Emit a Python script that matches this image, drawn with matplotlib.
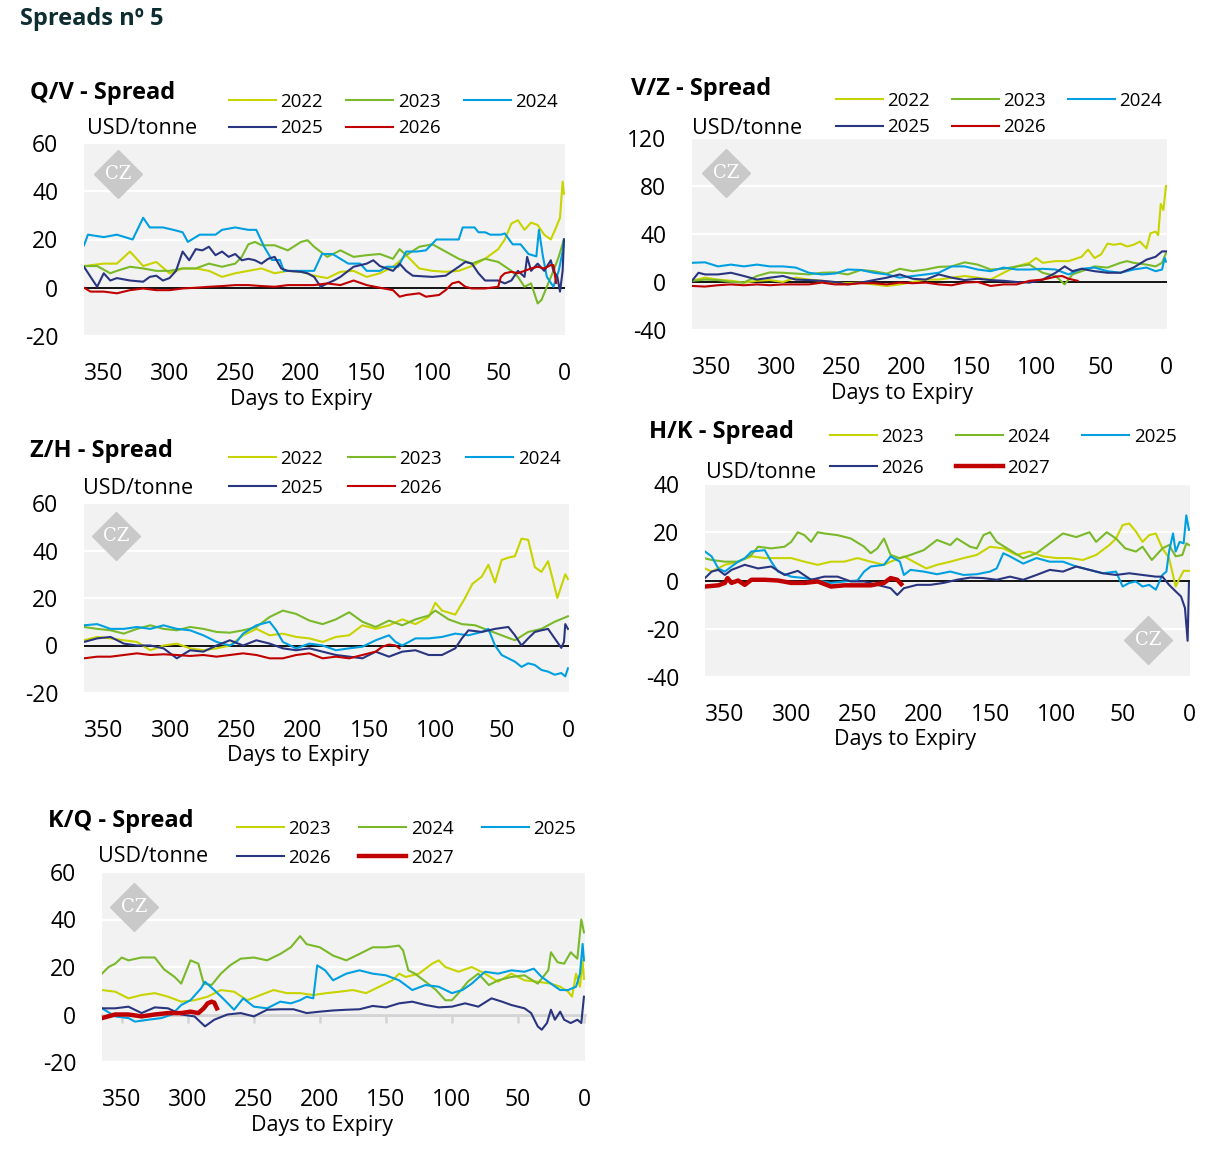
import matplotlib.pyplot as plt

W, H = 1213, 1149
plt.rcParams['font.family'] = ['Open Sans', 'DejaVu Sans']
plt.rcParams['axes.unicode_minus'] = False

x_ticks = [350, 300, 250, 200, 150, 100, 50, 0]

YELLOW = '#c8d400'
GREEN = '#7ab929'
BLUE = '#00a0e0'
NAVY = '#2a3580'
RED = '#c00000'

# ---------------- Q/V spread ----------------
qv_labels = ['2022', '2023', '2024', '2025', '2026']
qv_d_2022 = [365, 350, 340, 330, 320, 310, 300, 290, 280, 270, 260, 250, 240, 230, 220, 210, 200, 190, 180, 170,
             160, 150, 140, 130, 120, 110, 100, 90, 80, 70, 60, 50, 45, 40, 35, 30, 25, 20, 15, 10, 6, 3, 1, 0]
qv_2022 = [9, 10, 10, 15, 9, 10.7, 6, 8, 8, 7, 4.5, 6, 7, 8, 6, 7, 6.6, 5, 4, 6.6,
           7, 4.5, 6, 8.7, 13.5, 8, 7, 6.6, 7, 9, 12, 16, 20, 26.6, 28, 24, 27, 26, 22, 20, 25, 29, 44, 39]
qv_d_2023 = [365, 355, 345, 340, 330, 320, 310, 300, 290, 280, 270, 260, 250, 245, 240, 235, 230, 220, 210, 200,
             195, 190, 180, 170, 160, 150, 140, 130, 125, 120, 110, 100, 90, 80, 70, 60, 50, 40, 35, 30, 25, 20,
             17, 12, 8, 4, 0]
qv_2023 = [9, 9, 6, 7, 8.7, 8, 7, 7, 8, 8, 10, 8.7, 10, 12.8, 18, 19, 17.6, 17.6, 15.5, 19,
           19.7, 17, 12.8, 15.5, 12.8, 13.5, 14, 12, 16, 13.5, 17, 18, 15, 12, 10, 12, 10.7, 7, 4.5, 0.4, 1.8, -6.5,
           -5, 1.8, 7, 12.8, 20]
qv_d_2024 = [365, 362, 350, 340, 328, 320, 315, 305, 297, 290, 286, 277, 265, 260, 250, 240, 234, 228, 222, 216,
             213, 205, 198, 190, 184, 176, 170, 164, 155, 150, 140, 135, 126, 120, 112, 105, 97, 88, 80, 77, 68,
             65, 60, 56, 48, 45, 39, 33, 27, 21, 19, 16, 13, 8, 4, 1, 0]
qv_2024 = [17.6, 22, 21, 22, 20, 29, 25, 25, 24, 23, 19, 22, 22, 24, 25, 24, 24, 17, 11.5, 11.5,
           7, 7, 7, 7, 14, 14, 12, 10, 10, 7, 7, 8.7, 8.7, 15, 15, 15.5, 20, 20, 20, 25, 25,
           23, 23, 22, 22, 22.5, 18, 18, 14, 13, 24, 13, 4.5, 0.4, 7, 15, 20]
qv_d_2025 = [365, 360, 355, 350, 345, 340, 330, 320, 315, 310, 305, 300, 295, 290, 285, 280, 275, 270, 265, 260,
             255, 250, 245, 240, 235, 230, 225, 220, 215, 210, 200, 195, 190, 185, 180, 175, 170, 160, 150, 145,
             140, 130, 125, 120, 115, 100, 90, 80, 75, 70, 65, 60, 50, 45, 40, 35, 30, 28, 25, 20, 15, 10, 8, 5,
             3, 1, 0]
qv_2025 = [8.7, 4.5, 0.4, 6, 3, 4, 3, 2.5, 4.5, 5, 3, 4, 7, 15, 11.4, 16, 15.5, 17, 13.5, 15,
           12.8, 14, 11.4, 12, 11.4, 10, 12, 12.8, 8, 7, 6.6, 6, 4.5, 0.4, 1.8, 3, 4.5, 8.7, 10, 11.4,
           9, 7, 10, 7, 5, 4.5, 5, 8.7, 10.7, 10, 6, 3, 3, 1.8, 3, 7, 4.5, 12.8, 7, 10, 7, 11.4, 7, 4.5,
           -1.6, 7, 20]
qv_d_2026 = [365, 360, 350, 340, 330, 320, 310, 300, 290, 280, 270, 260, 250, 240, 230, 220, 210, 200, 190, 180,
             170, 160, 150, 140, 130, 125, 120, 110, 105, 95, 90, 85, 80, 75, 70, 60, 50, 48, 45, 40, 35, 30,
             25, 20, 15, 10, 8, 6]
qv_2026 = [0, -1.6, -1.6, -2.3, -1, -0.3, -1, -1, -0.3, 0, 0.4, 0.7, 1.1, 1.1, 0.7, 0.4, 1.1, 1.1, 1.1, 1.8,
           1.1, 3, 1.1, 0, -1, -3.7, -3, -2.3, -3.7, -3, -1, 1.8, 2.5, 0.4, -0.3, -0.3, 0.4, 4.5, 6, 6.6, 6, 7,
           8, 8.7, 8, 9.4, 9.4, 2]

# ---------------- V/Z spread ----------------
vz_labels = ['2022', '2023', '2024', '2025', '2026']
vz_d_2022 = [365, 355, 345, 335, 325, 315, 305, 295, 285, 275, 265, 255, 245, 235, 225, 215, 205, 195, 185, 175,
             165, 155, 145, 135, 125, 115, 105, 100, 95, 85, 75, 65, 60, 55, 50, 45, 40, 35, 30, 25, 20, 15, 12,
             8, 6, 4, 2, 0]
vz_2022 = [1, 3.6, 2, 1, -0.5, 1, 1.6, 0, 3.6, 2, 1, -0.5, -1, -0.5, -2, -3.3, -2, 0, 2, 2,
           3.6, 5, 3.6, 2, 7.7, 13, 16, 20, 16, 17.4, 17.4, 21, 27, 20, 23, 32, 31, 32, 29.6, 31, 33.7, 28, 40.5,
           42, 39, 65, 60, 80]
vz_d_2023 = [365, 355, 345, 335, 325, 315, 305, 295, 285, 275, 265, 255, 245, 235, 225, 215, 205, 195, 185, 175,
             165, 155, 145, 135, 125, 115, 105, 95, 85, 78, 72, 65, 55, 45, 35, 30, 25, 15, 8, 3, 0]
vz_2023 = [1, 2, 1.6, 0, -0.5, 5, 8, 7.7, 7, 6.3, 7.7, 8, 6.3, 10, 9, 7, 11, 9, 10.4, 12.6,
           13, 16.4, 14.5, 10.4, 11, 13, 14.5, 7.7, 5, -2, 6.3, 9, 13, 12, 16, 17.4, 16, 14.5, 13, 16, 24]
vz_d_2024 = [365, 355, 345, 335, 325, 315, 305, 295, 285, 275, 265, 255, 245, 235, 225, 215, 205, 195, 185, 175,
             165, 155, 145, 135, 125, 115, 105, 95, 85, 75, 65, 55, 45, 35, 25, 15, 8, 3, 1, 0]
vz_2024 = [16, 16.4, 13, 14.5, 13, 14.5, 13, 13, 12, 7.7, 6.3, 7, 10.4, 10, 7.7, 6.3, 3.6, 5, 6.3, 7.7,
           13, 13, 10.4, 9, 12, 10.4, 10.4, 11, 10.4, 6.3, 11, 12, 9, 7.7, 10.4, 12, 9, 10.4, 20, 17]
vz_d_2025 = [365, 360, 355, 345, 335, 325, 315, 305, 295, 285, 275, 265, 255, 245, 235, 225, 215, 205, 195, 185,
             175, 165, 155, 145, 135, 125, 115, 105, 95, 85, 78, 72, 65, 55, 45, 35, 25, 15, 8, 3, 0]
vz_2025 = [1, 7.7, 6.3, 6.3, 7.7, 5, 2, 3.6, 5, 2, 1.6, 1, 0, -2, -0.5, 1.6, 3.6, 6.3, 2.7, 2,
           6.3, 3.6, 1.6, 2.7, 1.6, 1, 0, -0.5, 2, 7.7, 13, 9, 11, 9, 7.7, 7.7, 12, 18.6, 21, 25.5, 25.5]
vz_d_2026 = [365, 355, 345, 335, 325, 315, 305, 295, 285, 275, 265, 255, 245, 235, 225, 215, 205, 195, 185, 175,
             165, 155, 145, 135, 125, 115, 105, 95, 85, 80, 75, 68]
vz_2026 = [-3.3, -3.8, -2.7, -2, -2.7, -2, -2.7, -2, -2, -2, -0.5, -2, -2, -1, -1, -2, -0.5, -1, -0.5, -2,
           -2.7, -0.5, 0, -3.3, -2, -2, 1, 2, 4.4, 5, 2.7, 1]

# ---------------- Z/H spread ----------------
zh_labels = ['2022', '2023', '2024', '2025', '2026']
zh_d_2022 = [365, 355, 345, 335, 325, 315, 305, 295, 285, 275, 265, 255, 245, 235, 225, 215, 205, 195, 185, 175,
             165, 155, 145, 135, 125, 115, 105, 100, 95, 85, 78, 72, 65, 60, 55, 50, 45, 40, 35, 30, 25, 20, 15,
             12, 8, 5, 2, 0]
zh_2022 = [2.2, 3.6, 3, 2.2, 1.5, -2, 0, 0.8, -1.2, -2, -1.2, 0, 4.3, 7, 4.3, 5, 3.6, 3, 1.5, 3.6,
           4.3, 8.5, 7, 8.5, 11, 9, 12, 18, 14.7, 13, 19.6, 26, 29, 34, 26.5, 36, 37, 37.6, 45, 44.5, 33, 31, 35.5,
           29, 20, 25, 30, 28]
zh_d_2023 = [365, 355, 345, 335, 325, 315, 305, 295, 285, 275, 265, 255, 245, 235, 225, 215, 205, 195, 185, 175,
             165, 155, 145, 135, 125, 115, 105, 100, 90, 80, 70, 60, 50, 40, 30, 20, 10, 0]
zh_2023 = [7.8, 7, 6.4, 5, 7, 8.5, 7, 6.4, 7.8, 7, 5.7, 5.4, 6.4, 7.8, 12, 14.7, 13.3, 10.5, 9, 11,
           14, 10, 7.8, 10.5, 8.5, 11, 12.6, 14.7, 11, 9, 8.5, 6.4, 4.3, 2.2, 5.7, 7, 10, 12.3]
zh_d_2024 = [365, 355, 345, 335, 325, 315, 305, 295, 285, 275, 265, 255, 250, 245, 235, 225, 220, 215, 205, 195,
             185, 175, 165, 155, 145, 135, 130, 125, 115, 105, 95, 85, 75, 65, 60, 55, 50, 45, 40, 35, 30, 25,
             20, 15, 10, 5, 2, 0]
zh_2024 = [8.5, 9, 7, 7, 7.8, 7, 8.5, 7, 6.4, 4.3, 1.5, 0, 1.5, 5, 8.5, 10, 6.4, 1.5, -1.2, 0.8,
           0, -2, -1.2, -0.5, 2.2, 4.3, 1.5, 0, 3, 3, 3.6, 5, 4.3, 5.7, 7, 0, -4, -5.4, -6.8, -9, -7.5, -8.2,
           -10.3, -11, -12.3, -11.6, -13, -9.6]
zh_d_2025 = [365, 355, 345, 335, 325, 315, 305, 295, 285, 275, 265, 255, 245, 235, 225, 215, 205, 195, 185, 175,
             165, 155, 145, 135, 125, 115, 105, 95, 85, 80, 75, 65, 55, 45, 40, 35, 30, 25, 20, 15, 10, 5, 3, 2, 0]
zh_2025 = [1.5, 3, 3.6, 0.8, 0, 0, -1.2, -5.4, -2, -2.6, 0, 2.2, 0, 2.2, 0.8, -1.2, -2, -1.2, -2.6, -4,
           -4.7, -5.4, -2.6, -4.7, -2.6, -2, -4, -4, -1.2, 3, 6.4, 5.7, 7, 7.8, 4.3, 0, 3, 5.7, 6.4, 7, 3, -1,
           1.5, 9, 7]
zh_d_2026 = [365, 355, 345, 335, 325, 315, 305, 295, 285, 275, 265, 255, 245, 235, 225, 215, 205, 195, 185, 175,
             165, 155, 145, 140, 135, 130, 127]
zh_2026 = [-5.4, -4.7, -4.7, -4, -3.3, -4, -3.7, -4, -4.4, -4, -4.7, -4, -3.3, -4, -5.4, -5.4, -4, -3.3, -5.4,
           -4.7, -5.4, -4, -2.6, -0.5, 0.4, 0, -1.2]

# ---------------- H/K spread ----------------
hk_labels = ['2023', '2024', '2025', '2026', '2027']
hk_d_2023 = [365, 360, 350, 340, 330, 320, 310, 300, 290, 280, 270, 260, 250, 240, 230, 225, 215, 205, 198, 190,
             180, 170, 160, 150, 140, 130, 120, 110, 100, 90, 80, 70, 60, 55, 50, 45, 40, 35, 30, 25, 20, 15, 10,
             7, 4, 0]
hk_2023 = [5, 3.7, 6.5, 7.8, 10, 9.3, 9.3, 9.3, 7.8, 6.5, 7.8, 7.8, 9.3, 7.8, 6.5, 7.8, 10, 7, 5, 6.5,
           7.8, 9.3, 10.6, 14, 13.3, 10.6, 12, 10, 9.3, 9.3, 8.5, 10.6, 14.7, 17.4, 23, 23.6, 20.3, 16, 18.8, 19.5,
           13.3, 9.3, -2.5, 1, 4, 4]
hk_d_2024 = [365, 360, 350, 340, 330, 325, 315, 305, 300, 295, 290, 285, 280, 275, 265, 255, 245, 240, 235, 230,
             225, 218, 210, 200, 190, 180, 175, 165, 160, 155, 150, 145, 135, 125, 115, 105, 95, 85, 75, 70, 62,
             55, 48, 40, 35, 28, 20, 15, 10, 5, 2, 0]
hk_2024 = [9.2, 8.5, 7.8, 7.8, 10.6, 14, 13.3, 14, 16, 20, 18.8, 16, 20, 19.5, 18.8, 17.4, 14, 11.3, 13.3, 17.4,
           10.6, 9.2, 10.6, 12.6, 16.8, 14.7, 17.4, 14, 13.3, 18.8, 20, 16, 12.6, 9.2, 11.3, 15.4, 19.5, 18, 20,
           16, 20, 17.4, 13.3, 12, 14, 8.5, 13.3, 14.7, 10, 10.6, 15.4, 14.7]
hk_d_2025 = [365, 360, 355, 350, 345, 340, 335, 330, 320, 315, 310, 300, 290, 280, 270, 260, 250, 245, 240, 230,
             225, 218, 215, 210, 200, 190, 180, 170, 160, 150, 145, 140, 135, 125, 115, 105, 95, 85, 75, 65, 55,
             50, 45, 40, 35, 30, 25, 20, 17, 15, 12, 10, 7, 4, 2, 0]
hk_2025 = [12, 10, 5, 3.7, 5.8, 7.8, 9.2, 12, 12.6, 7.8, 3.7, 1.6, 1, 0, -1, -0.4, 0, 3.7, 5.8, 6.5,
           10, 7.8, 2.3, 4.4, 3.7, 2.6, 3.7, 2.3, 2.6, 3.7, 5, 11.3, 10, 7, 9.3, 7.8, 7.8, 5.8, 4.4, 3, 3.7,
           -2.5, -1, -0.4, -2.5, -1.8, -3.8, 2.3, 3.7, 12, 19.5, 12, 16, 15.4, 27, 21]
hk_d_2026 = [365, 360, 355, 350, 345, 335, 325, 315, 305, 295, 285, 275, 265, 255, 245, 235, 225, 220, 215, 205,
             195, 185, 175, 165, 155, 145, 135, 125, 115, 105, 95, 85, 75, 65, 55, 45, 35, 25, 20, 15, 10, 6, 3,
             1, 0]
hk_2026 = [1, 3.7, 4.4, 2.3, 4.4, 6.5, 5, 5.8, 2.3, 4, 0.3, 1.6, 1.6, -0.4, -0.4, -1.8, -3.2, -6, -3.2, -1.8,
           -1.8, -1, 0.3, 1.2, 1, 0.3, 1.6, 0.3, 2.3, 4.4, 3.7, 5.8, 4.4, 3, 2.3, 3, 2.3, 1.6, 1.6, -1.8, -4.5,
           -6.6, -11.4, -25, -1]
hk_d_2027 = [365, 355, 350, 348, 345, 340, 335, 330, 320, 310, 300, 290, 280, 270, 260, 250, 240, 230, 225, 220, 217]
hk_2027 = [-2.5, -2, -1, 1, -1, 0, -1.8, 0.3, 0.3, 0, -1, -1, -0.4, -2.5, -2, -2, -2, -1, 1, 0.3, -1.5]

# ---------------- K/Q spread ----------------
kq_labels = ['2023', '2024', '2025', '2026', '2027']
kq_d_2023 = [365, 355, 345, 335, 325, 315, 305, 295, 285, 275, 265, 255, 245, 235, 225, 215, 205, 195, 185, 175,
             165, 155, 145, 140, 135, 125, 115, 110, 105, 95, 85, 75, 65, 55, 45, 35, 25, 18, 12, 9, 6, 3, 1, 0]
kq_2023 = [10.3, 9.6, 6.8, 8.2, 9, 7.5, 5.4, 6, 7.5, 10.3, 9.6, 6, 8.2, 10.3, 9, 9, 8.2, 9, 9.6, 10.3,
           9, 11.7, 14.4, 17.2, 15.8, 17.2, 21.4, 22.8, 20, 18, 20, 17.2, 13.8, 17.2, 14.4, 13.8, 13, 11.7, 9.6,
           7.5, 17.2, 11.7, 22.8, 15]
kq_d_2024 = [365, 360, 355, 350, 345, 335, 325, 318, 310, 305, 298, 292, 288, 282, 275, 268, 260, 250, 240, 230,
             222, 215, 210, 200, 190, 180, 170, 160, 150, 140, 137, 133, 128, 120, 112, 105, 100, 95, 88, 80, 72,
             65, 55, 45, 35, 27, 25, 20, 15, 10, 5, 2, 0]
kq_2024 = [17.2, 20, 21.4, 24, 22.8, 24, 24, 19, 15.8, 13, 22.8, 21.4, 13, 12.4, 17.2, 20.7, 23.5, 24, 22.8, 25.5,
           28.3, 33, 29.6, 28.3, 24.8, 22.8, 25.5, 28.3, 28.3, 29, 27, 18.6, 17.2, 13.8, 10.3, 6, 6, 9, 13.8, 17.2,
           12.4, 14.4, 15.8, 16.5, 13, 18.6, 26.2, 22, 21.4, 26.2, 23.5, 40, 34.6]
kq_d_2025 = [365, 355, 345, 340, 330, 320, 312, 305, 298, 290, 287, 280, 272, 265, 258, 250, 240, 230, 222, 215,
             210, 205, 202, 196, 190, 180, 170, 160, 150, 140, 130, 120, 110, 100, 92, 85, 75, 65, 55, 45, 38, 32,
             25, 18, 12, 6, 3, 1, 0]
kq_2025 = [2.6, -0.8, -1.5, -3, -2.2, -1.5, 0, 4, 6, 11, 13.8, 10.3, 6, 2, 6.8, 3.3, 2.6, 5.4, 4.7, 6,
           7.5, 6.8, 20.7, 18.6, 14.4, 17.2, 18.6, 17.2, 16.5, 14.4, 10.3, 12.4, 11.7, 9, 10.3, 13, 18, 17.2, 18.6,
           18, 19.3, 15.8, 13, 10.3, 10.3, 11.7, 17.2, 29.7, 22.8]
kq_d_2026 = [365, 355, 345, 335, 325, 315, 305, 295, 287, 280, 270, 260, 250, 240, 230, 220, 210, 200, 190, 180,
             170, 160, 150, 140, 130, 120, 110, 100, 90, 80, 70, 62, 55, 45, 40, 35, 32, 28, 25, 22, 18, 15, 10,
             5, 2, 0]
kq_2026 = [2.6, 2.6, 3.3, 0.6, 3, 2.6, 0, -0.8, -5, -2.2, 0, 0.6, -0.8, 2, 2.2, 2.2, 0.6, 1.2, 1.7, 2,
           2.2, 3.6, 3, 4.7, 5.4, 4, 3, 3.3, 4.7, 3.3, 6.8, 5.4, 4, 2.6, 0.6, -5, -6.4, -3.6, 2, -2.2, 1.2, -2.2,
           -3.6, -2.2, -3.6, 7.5]
kq_d_2027 = [365, 355, 345, 335, 325, 315, 305, 298, 292, 288, 285, 282, 280, 278]
kq_2027 = [-1.5, 0, 0, -0.8, 0, 0.6, 0.6, 1.2, 0.6, 2.6, 4.7, 5.4, 5, 2.6]

fig = plt.figure(figsize=(W / 100, H / 100), dpi=100)


def fx(px):
    return px / W


def fy(py):
    return 1 - py / H


def panel(box, ylim, yticks, series, labels, widths, title, title_xy, unit_xy, leg_xy, colsp, rowsp,
          xlab_x, wm_xy, gray_zero=False):
    l, t, r, b = box
    ax = fig.add_axes([fx(l), fy(b), (r - l) / W, (b - t) / H])
    ax.set_facecolor('#f2f2f2')
    for s in ax.spines.values():
        s.set_visible(False)
    ax.set_xlim(365, -0.8)
    ax.set_ylim(*ylim)
    ax.set_xticks(x_ticks)
    ax.set_yticks(yticks)
    ax.set_yticklabels([str(v) for v in yticks])
    ax.tick_params(length=0, labelsize=16.5)
    ax.tick_params(axis='x', pad=18.5)
    ax.tick_params(axis='y', pad=18.5)
    ax.grid(axis='y', color='white', lw=1.6)
    ax.set_axisbelow(True)

    if gray_zero:
        # light grey zero line with small category ticks
        ax.axhline(0, color='#d4d4d4', lw=2, zorder=1.1)
        frac = (0 - ylim[0]) / (ylim[1] - ylim[0])
        sec = ax.secondary_xaxis(frac)
        sec.set_xticks(x_ticks)
        sec.tick_params(axis='x', length=6, width=1.8, color='#d4d4d4', labelbottom=False, direction='out')
        sec.spines['bottom'].set_color('#d4d4d4')
        sec.spines['bottom'].set_linewidth(2)
        for k in ['top', 'left', 'right']:
            sec.spines[k].set_visible(False)
    else:
        ax.axhline(0, color='black', lw=1.3, zorder=1.5)

    # watermark
    wx = (wm_xy[0] - l) / (r - l)
    wy = (b - wm_xy[1]) / (b - t)
    ax.plot([wx], [wy], marker='D', ms=24, color='#c9c9c9', mec='#c9c9c9', transform=ax.transAxes, zorder=1)
    ax.text(wx, wy, 'CZ', transform=ax.transAxes, ha='center', va='center', color='white',
            fontsize=13, family='DejaVu Serif', zorder=1.2)

    colors = [YELLOW, GREEN, BLUE, NAVY, RED]
    handles = []
    for (d, v), c, lw, lab in zip(series, colors, widths, labels):
        h, = ax.plot(d, v, color=c, lw=lw, label=lab, zorder=2, solid_joinstyle='round')
        handles.append(h)

    order = [0, 3, 1, 4, 2]
    ax.legend([handles[i] for i in order], [labels[i] for i in order], ncol=3, loc='upper left',
              bbox_to_anchor=(fx(leg_xy[0]), fy(leg_xy[1])), bbox_transform=fig.transFigure,
              frameon=False, fontsize=13.5, handlelength=2.5, handletextpad=0.25,
              columnspacing=colsp, labelspacing=rowsp, borderpad=0, borderaxespad=0)

    fig.text(fx(title_xy[0]), fy(title_xy[1]), title, fontsize=17, fontweight='bold', ha='left', va='center')
    fig.text(fx(unit_xy[0]), fy(unit_xy[1]), 'USD/tonne', fontsize=15.5, ha='left', va='center')
    ax.text(xlab_x, -63 / (b - t), 'Days to Expiry', transform=ax.transAxes, ha='center', va='center',
            fontsize=15.5)
    return ax


thin = [1.5, 1.5, 1.5, 1.5, 1.5]
thick_red = [1.5, 1.5, 1.5, 1.5, 3.2]

fig.text(fx(20), fy(19), 'Spreads nº 5', fontsize=17, fontweight='bold', color='#0e2d31', ha='left', va='center')

panel((84, 143, 565, 336), (-20, 60), [-20, 0, 20, 40, 60],
      [(qv_d_2022, qv_2022), (qv_d_2023, qv_2023), (qv_d_2024, qv_2024), (qv_d_2025, qv_2025),
       (qv_d_2026, qv_2026)],
      qv_labels, thin, 'Q/V - Spread', (30, 93), (87, 129), (229, 93), 1.23, 0.45, 0.451, (118, 174))

panel((692, 138, 1167, 330), (-40, 120), [-40, 0, 40, 80, 120],
      [(vz_d_2022, vz_2022), (vz_d_2023, vz_2023), (vz_d_2024, vz_2024), (vz_d_2025, vz_2025),
       (vz_d_2026, vz_2026)],
      vz_labels, thin, 'V/Z - Spread', (631, 89), (692, 128), (836, 92), 1.15, 0.45, 0.442, (726, 173))

panel((84, 503, 569, 693), (-20, 60), [-20, 0, 20, 40, 60],
      [(zh_d_2022, zh_2022), (zh_d_2023, zh_2023), (zh_d_2024, zh_2024), (zh_d_2025, zh_2025),
       (zh_d_2026, zh_2026)],
      zh_labels, thin, 'Z/H - Spread', (30, 451), (83, 489), (229, 450), 1.3, 0.57, 0.441, (116, 536))

panel((705, 484, 1190, 677), (-40, 40), [-40, -20, 0, 20, 40],
      [(hk_d_2023, hk_2023), (hk_d_2024, hk_2024), (hk_d_2025, hk_2025), (hk_d_2026, hk_2026),
       (hk_d_2027, hk_2027)],
      hk_labels, thick_red, 'H/K - Spread', (649, 432), (706, 472), (830, 428), 1.7, 0.67, 0.412, (1148, 640))

panel((102, 872, 585, 1062), (-20, 60), [-20, 0, 20, 40, 60],
      [(kq_d_2023, kq_2023), (kq_d_2024, kq_2024), (kq_d_2025, kq_2025), (kq_d_2026, kq_2026),
       (kq_d_2027, kq_2027)],
      kq_labels, thick_red, 'K/Q - Spread', (48, 821), (98, 856), (237, 820), 1.5, 0.57, 0.455, (134, 907),
      gray_zero=True)

fig.savefig('out.png', dpi=100, facecolor='white')
